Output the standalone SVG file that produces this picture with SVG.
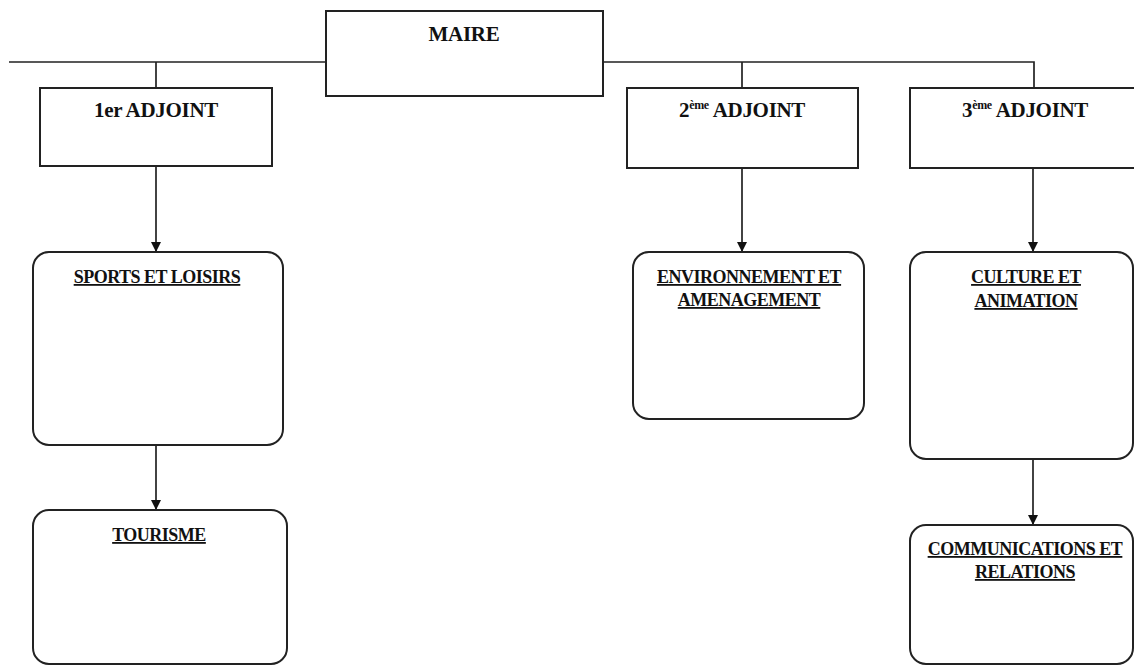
<svg xmlns="http://www.w3.org/2000/svg" width="1134" height="666" viewBox="0 0 1134 666">
<style>
.box{fill:#fff;stroke:#222;stroke-width:2}
.conn{fill:none;stroke:#222;stroke-width:1.7}
.h{font-family:"Liberation Serif","Times New Roman",serif;font-weight:bold;font-size:21px;letter-spacing:-0.3px;fill:#111;text-anchor:middle}
.s{font-family:"Liberation Serif","Times New Roman",serif;font-weight:bold;font-size:18px;letter-spacing:-0.5px;fill:#111;text-anchor:middle;text-decoration:underline}
.sup{font-size:12px}
</style>
<defs>
<marker id="arr" markerWidth="10" markerHeight="12" refX="10" refY="5" orient="auto" markerUnits="userSpaceOnUse">
<path d="M0,0 L10,5 L0,10 Z" fill="#111"/>
</marker>
</defs>
<rect width="1134" height="666" fill="#fff"/>
<g id="connectors">
<path class="conn" d="M9,62 H1034 V88"/>
<path class="conn" d="M156,62 V88"/>
<path class="conn" d="M742,62 V88"/>
<path class="conn" d="M156,166 V252" marker-end="url(#arr)"/>
<path class="conn" d="M156,445 V510" marker-end="url(#arr)"/>
<path class="conn" d="M742,168 V252" marker-end="url(#arr)"/>
<path class="conn" d="M1033,168 V252" marker-end="url(#arr)"/>
<path class="conn" d="M1033,459 V525" marker-end="url(#arr)"/>
</g>
<g id="maire">
<rect class="box" x="326" y="11" width="277" height="85"/>
<text class="h" x="464" y="41">MAIRE</text>
</g>
<g id="adjoint1">
<rect class="box" x="40" y="88" width="232" height="78"/>
<text class="h" x="156" y="117">1er ADJOINT</text>
</g>
<g id="adjoint2">
<rect class="box" x="627" y="88" width="231" height="80"/>
<text class="h" x="742" y="117">2<tspan class="sup" dy="-8">ème</tspan><tspan dy="8"> ADJOINT</tspan></text>
</g>
<g id="adjoint3">
<rect class="box" x="910" y="88" width="230" height="80"/>
<text class="h" x="1025" y="117">3<tspan class="sup" dy="-8">ème</tspan><tspan dy="8"> ADJOINT</tspan></text>
</g>
<g id="sports">
<rect class="box" x="33" y="252" width="250" height="193" rx="16" ry="16"/>
<text class="s" x="157" y="283">SPORTS ET LOISIRS</text>
</g>
<g id="tourisme">
<rect class="box" x="33" y="510" width="254" height="154" rx="16" ry="16"/>
<text class="s" x="159" y="541">TOURISME</text>
</g>
<g id="environnement">
<rect class="box" x="633" y="252" width="231" height="167" rx="16" ry="16"/>
<text class="s" x="749" y="283">ENVIRONNEMENT ET</text>
<text class="s" x="749" y="306">AMENAGEMENT</text>
</g>
<g id="culture">
<rect class="box" x="910" y="252" width="223" height="207" rx="16" ry="16"/>
<text class="s" x="1026" y="283">CULTURE ET</text>
<text class="s" x="1026" y="307">ANIMATION</text>
</g>
<g id="communications">
<rect class="box" x="910" y="525" width="223" height="139" rx="16" ry="16"/>
<text class="s" x="1025" y="555">COMMUNICATIONS ET</text>
<text class="s" x="1025" y="578">RELATIONS</text>
</g>
</svg>
